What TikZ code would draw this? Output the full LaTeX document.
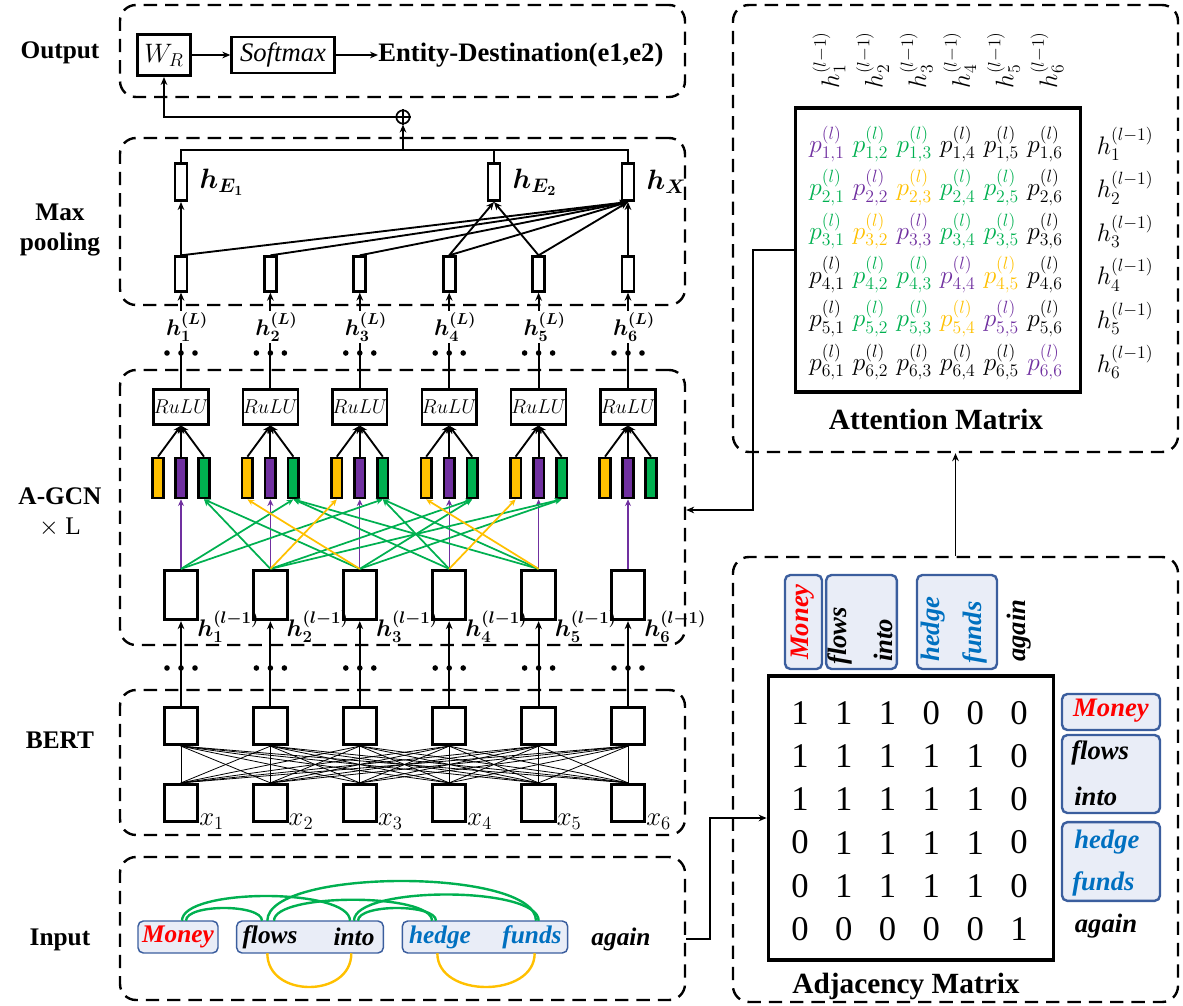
\RequirePackage{fix-cm}
\documentclass[tikz,border=0pt]{standalone}
\usepackage{amsmath,bm}
\usepackage{fontspec}
\setmainfont{Liberation Serif}
\usetikzlibrary{positioning,arrows.meta}
\definecolor{agyellow}{HTML}{FFC000}
\definecolor{agpurple}{HTML}{7030A0}
\definecolor{aggreen}{HTML}{00B050}
\definecolor{wordred}{HTML}{FF0000}
\definecolor{wordblue}{HTML}{0070C0}
\definecolor{wordfill}{HTML}{E9EDF7}
\definecolor{wordline}{HTML}{3B5E9E}
\newcommand{\fsz}[1]{\fontsize{#1}{#1}\selectfont}

\begin{document}
\begin{tikzpicture}[x=0.75pt,y=-0.75pt,>={Stealth[length=6pt,width=5pt]},
  grp/.style={draw,line width=1.8pt,dash pattern=on 10pt off 6pt,rounded corners=12pt,inner sep=0pt,minimum width=423.75pt},
  side/.style={font=\fsz{19}\bfseries,align=center},
  pbar/.style={draw,line width=2pt,minimum width=9pt,minimum height=26pt,inner sep=0pt},
  cbar/.style={draw,line width=2pt,minimum width=8pt,minimum height=30pt,inner sep=0pt},
  rlbox/.style={draw,line width=1.8pt,minimum width=41pt,minimum height=26pt,inner sep=0pt,font=\fsz{15}},
  hbox/.style={draw,line width=2.2pt,minimum width=25pt,minimum height=37pt,inner sep=0pt},
  bbox/.style={draw,line width=2.2pt,minimum width=25pt,minimum height=28pt,inner sep=0pt},
  pool/.style={line width=1.4pt},
  cedge/.style={->,>={Stealth[length=5pt,width=4.5pt]},line width=1.3pt},
  garc/.style={aggreen,line width=1.8pt},
  yarc/.style={agyellow,line width=1.8pt},
  wbox/.style={draw=wordline,fill=wordfill,line width=1.1pt,rounded corners=4pt,inner sep=0pt},
  word/.style={font=\fsz{19}\bfseries\itshape,inner sep=0pt},
  aword/.style={font=\fsz{20}\bfseries\itshape,inner sep=0pt},
  link/.style={line width=1.3pt}]
\useasboundingbox (0,0) rectangle (1183,1006);

\node[grp,minimum height=69pt] (gout) at (402.5,51) {};
\node[grp,minimum height=125.25pt] (gpool) at (402.5,221.5) {};
\node[grp,minimum height=206.25pt] (ggcn) at (402.5,507.5) {};
\node[grp,minimum height=108.75pt] (gbert) at (402.5,762.5) {};
\node[grp,minimum height=107.25pt] (gin) at (402.5,928.5) {};
\node[grp,minimum width=333.75pt,minimum height=335.25pt] (gatt) at (955.5,228.5) {};
\node[grp,minimum width=333.75pt,minimum height=333.75pt] (gadj) at (955.5,779.5) {};

\node[side] (lout) at (60,53) {Output};
\node[side] (lpool) at (60,230) {Max\\[3pt]pooling};
\node[side] (lgcn) at (60,512) {A-GCN\\[3pt]{\normalfont$\times$ L}};
\node[side] (lbert) at (60,740) {BERT};
\node[side] (lin) at (60,940) {Input};

\node[draw,line width=2pt,minimum width=40pt,minimum height=31pt,inner sep=0pt,font=\fsz{20}] (wr) at (164,55) {$W_R$};
\node[draw,line width=2pt,minimum width=77pt,minimum height=27pt,inner sep=0pt,font=\fsz{20}\itshape] (soft) at (283,55) {Softmax};
\node[font=\fsz{20}\bfseries,anchor=west,inner sep=0pt] (ent) at (378,55) {Entity-Destination(e1,e2)};
\draw[->,pool] (wr) -- (soft);
\draw[->,pool] (soft) -- (ent);

\node[circle,draw,line width=1.3pt,minimum size=10pt,inner sep=0pt] (sum) at (403,117) {};
\draw[line width=1.3pt] (sum.north) -- (sum.south) (sum.west) -- (sum.east);
\draw[->,pool] (sum.west) -| (wr.south);

\node[pbar,minimum height=28pt] (he1) at (181,182) {};
\node[pbar,minimum height=28pt] (he2) at (494,182) {};
\node[pbar,minimum height=28pt] (hx) at (628,182) {};
\node[font=\fsz{21},right=5pt of he1] (lhe1) {$\bm{h_{E_1}}$};
\node[font=\fsz{21},right=5pt of he2] (lhe2) {$\bm{h_{E_2}}$};
\node[font=\fsz{21},right=5pt of hx] (lhx) {$\bm{h_{X}}$};
\coordinate (mtop) at (403,150);
\draw[pool] (he1.north) |- (mtop) -| (hx.north);
\draw[pool] (he2.north) -- (he2.north |- mtop);
\draw[->,pool] (mtop) -- (sum.south);

\foreach \i [evaluate=\i as \cx using 181+89.4*(\i-1)] in {1,...,6} {
  \node[pbar] (mp\i) at (\cx,274) {};
  \node[rlbox] (rl\i) at (\cx,407) {$RuLU$};
  \node[cbar,fill=agyellow] (cy\i) at (\cx-23,478) {};
  \node[cbar,fill=agpurple] (cp\i) at (\cx,478) {};
  \node[cbar,fill=aggreen] (cg\i) at (\cx+23,478) {};
  \node[hbox] (h\i) at (\cx,595) {};
  \node[font=\fsz{18},anchor=west,inner sep=0pt] (hp\i) at (\cx+16,627) {$\bm{h^{(l-1)}_{\i}}$};
  \node[bbox] (b\i) at (\cx,726) {};
  \node[bbox] (x\i) at (\cx,803) {};
  \node[font=\fsz{20},anchor=west,inner sep=0pt] (xl\i) at (\cx+18,822) {$x_{\i}$};
  \coordinate (dt\i) at (\cx,353);
  \coordinate (db\i) at (\cx,668);
}

\draw[->,pool] (mp1.north) -- (he1.south);
\foreach \j in {1,...,5} \draw[->,pool] (mp\j.north) -- (hx.south);
\draw[->,pool] (mp4.north) -- (he2.south);
\draw[->,pool] (mp5.north) -- (he2.south);
\draw[->,pool] (mp6.north) -- (hx.south);

\foreach \i [evaluate=\i as \cx using 181+89.4*(\i-1)] in {1,...,6} {
  \draw[->,pool] (rl\i.north) -- (mp\i.south);
  \draw[->,pool] (cy\i.north) -- (rl\i.south);
  \draw[->,pool] (cp\i.north) -- (rl\i.south);
  \draw[->,pool] (cg\i.north) -- (rl\i.south);
  \draw[cedge,agpurple,line width=0.9pt] (h\i.north) -- (cp\i.south);
  \draw[->,pool] (b\i.north) -- (h\i.south);
  \foreach \j in {1,...,6} \draw[line width=0.6pt] (x\j.north) -- (b\i.south);
  \node[font=\fsz{17},fill=white,inner sep=0.5pt] (hl\i) at (\cx+6,327) {$\bm{h^{(L)}_{\i}}$};
  \foreach \d in {-14,0,14} {
    \fill ([xshift=\d*0.75pt]dt\i) circle (2.1pt);
    \fill ([xshift=\d*0.75pt]db\i) circle (2.1pt);
  }
}
\foreach \s/\t in {2/1,3/1,1/2,4/2,5/2,1/3,4/3,5/3,2/4,3/4,2/5,3/5}
  \draw[cedge,aggreen] (h\s.north) -- (cg\t.south);
\foreach \s/\t in {3/2,2/3,5/4,4/5}
  \draw[cedge,agyellow] (h\s.north) -- (cy\t.south);

\node[wbox,minimum width=60pt,minimum height=24pt] (bmoney) at (178,937) {};
\node[wbox,minimum width=110pt,minimum height=24pt] (bflows) at (310,937) {};
\node[wbox,minimum width=124pt,minimum height=24pt] (bhedge) at (485,937) {};
\node[word,text=wordred,minimum height=24pt] (w1) at (178,937) {Money};
\node[word,minimum height=24pt] (w2) at (270,937) {flows};
\node[word,minimum height=24pt] (w3) at (354,937) {into};
\node[word,text=wordblue,minimum height=24pt] (w4) at (440,937) {hedge};
\node[word,text=wordblue,minimum height=24pt] (w5) at (532,937) {funds};
\node[word] (w6) at (621,939) {again};
\draw[garc] ([xshift=6pt]w1.north) .. controls +(0,-17) and +(0,-17) .. ([xshift=-6pt]w2.north);
\draw[garc] ([xshift=3pt]w1.north) .. controls +(0,-33) and +(0,-33) .. ([xshift=-3pt]w3.north);
\draw[garc] ([xshift=3pt]w2.north) .. controls +(0,-28) and +(0,-28) .. ([xshift=-6pt]w4.north);
\draw[garc] ([xshift=-2pt]w2.north) .. controls +(0,-53) and +(0,-53) .. ([xshift=3pt]w5.north);
\draw[garc] ([xshift=3pt]w3.north) .. controls +(0,-17) and +(0,-17) .. ([xshift=-3pt]w4.north);
\draw[garc] ([xshift=0pt]w3.north) .. controls +(0,-35) and +(0,-35) .. ([xshift=5pt]w5.north);
\draw[yarc] ([xshift=-2pt]w2.south) .. controls +(0,45) and +(0,45) .. ([xshift=-2pt]w3.south);
\draw[yarc] ([xshift=-2pt]w4.south) .. controls +(0,45) and +(0,45) .. ([xshift=2pt]w5.south);

\node[draw,line width=2.6pt,minimum width=214pt,minimum height=213pt,inner sep=0pt] (att) at (938,250) {};
\foreach \r/\row in {1/{agpurple,aggreen,aggreen,black,black,black},
                     2/{aggreen,agpurple,agyellow,aggreen,aggreen,black},
                     3/{aggreen,agyellow,agpurple,aggreen,aggreen,black},
                     4/{black,aggreen,aggreen,agpurple,agyellow,black},
                     5/{black,aggreen,aggreen,agyellow,agpurple,black},
                     6/{black,black,black,black,black,agpurple}} {
  \foreach \cc [count=\c] in \row
    \node[text=\cc,font=\fsz{19},inner sep=0pt] (p\r\c) at ({827+43.6*(\c-1)},{144+43.6*(\r-1)}) {$p^{(l)}_{\r,\c}$};
  \node[font=\fsz{19},inner sep=0pt] (rh\r) at (1125,{144+43.6*(\r-1)}) {$h^{(l-1)}_{\r}$};
  \node[font=\fsz{19},rotate=90,inner sep=0pt] (th\r) at ({829+43.6*(\r-1)},60) {$h^{(l-1)}_{\r}$};
}
\node[font=\fsz{22}\bfseries] (atitle) at (936,419) {Attention Matrix};

\node[draw,line width=2.6pt,minimum width=214pt,minimum height=213pt,inner sep=0pt] (adj) at (911,818) {};
\foreach \r/\row in {1/{1,1,1,0,0,0},2/{1,1,1,1,1,0},3/{1,1,1,1,1,0},
                     4/{0,1,1,1,1,0},5/{0,1,1,1,1,0},6/{0,0,0,0,0,1}}
  \foreach \v [count=\c] in \row
    \node[font=\fsz{26},inner sep=0pt] (a\r\c) at ({800+43.8*(\c-1)},{713+43.2*(\r-1)}) {\v};
\node[font=\fsz{22}\bfseries] (jtitle) at (906,986) {Adjacency Matrix};

\node[wbox,line width=1.8pt,minimum width=27.75pt,minimum height=70.5pt] (tmoney) at (803.5,622) {};
\node[wbox,line width=1.8pt,minimum width=53pt,minimum height=70.5pt] (tflows) at (861.5,622) {};
\node[wbox,line width=1.8pt,minimum width=60pt,minimum height=70.5pt] (thedge) at (957,622) {};
\node[aword,text=wordred,rotate=90] (v1) at (803,622) {Money};
\node[aword,rotate=90,anchor=west] (v2) at (840,665) {flows};
\node[aword,rotate=90,anchor=west] (v3) at (883,662) {into};
\node[aword,text=wordblue,rotate=90,anchor=west] (v4) at (933,662) {hedge};
\node[aword,text=wordblue,rotate=90,anchor=west] (v5) at (975,664) {funds};
\node[aword,rotate=90,anchor=west] (v6) at (1019,662) {again};

\node[wbox,line width=1.8pt,minimum width=73.5pt,minimum height=27pt] (rmoney) at (1111,712) {};
\node[wbox,line width=1.8pt,minimum width=73.5pt,minimum height=58.5pt] (rflows) at (1111,774) {};
\node[wbox,line width=1.8pt,minimum width=73.5pt,minimum height=59pt] (rhedge) at (1111,861.5) {};
\node[aword,text=wordred] (u1) at (1111,711) {Money};
\node[aword,anchor=west] (u2) at (1071,753) {flows};
\node[aword,anchor=west] (u3) at (1074,796) {into};
\node[aword,text=wordblue,anchor=west] (u4) at (1074,842) {hedge};
\node[aword,text=wordblue,anchor=west] (u5) at (1072,884) {funds};
\node[aword] (u6) at (1106,926) {again};

\coordinate (turn1) at (753,510);
\draw[->,link] (att.west) -| (turn1) -- (turn1 -| ggcn.east);
\draw[->,link] (gadj.north) -- (gatt.south);
\coordinate (turn2) at (710,818);
\draw[->,link] (gin.east |- w6) -| (turn2) -- (adj.west);
\end{tikzpicture}
\end{document}
